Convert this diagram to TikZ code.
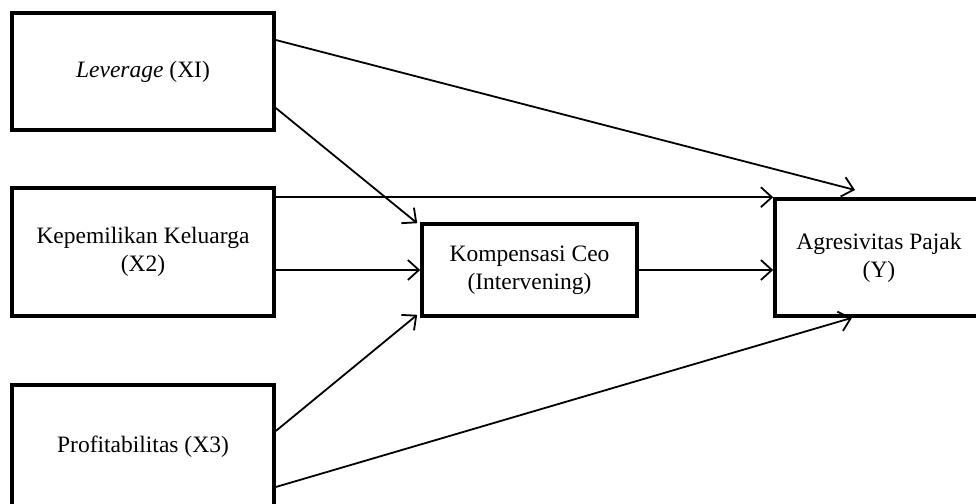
\documentclass[tikz,border=0pt]{standalone}
\usepackage{fontspec}
\setmainfont{Liberation Serif}
\usetikzlibrary{arrows.meta}
\begin{document}
\begin{tikzpicture}[x=1pt,y=-1pt,
  box/.style={draw=black,line width=3.6pt,fill=white,align=center,inner sep=0pt,
    font=\fontsize{23.5}{28}\selectfont},
  link/.style={draw=black,line width=1.8pt,-{Straight Barb[length=11pt,width=20pt,line width=1.8pt]}}]
\useasboundingbox (0,0) rectangle (976,503);
\clip (0,0) rectangle (976,503);
\node[box,minimum width=262pt,minimum height=117pt] (lev) at (143,71.5) {\textit{Leverage} (XI)};
\node[box,minimum width=262pt,minimum height=128pt] (kep) at (143,252) {Kepemilikan Keluarga\\(X2)};
\node[box,minimum width=262pt,minimum height=124pt] (pro) at (143,447) {Profitabilitas (X3)};
\node[box,minimum width=215pt,minimum height=92pt] (kom) at (529.5,270) {Kompensasi Ceo\\(Intervening)};
\node[box,minimum width=208pt,minimum height=117pt] (agr) at (879,257.5) {Agresivitas Pajak\\(Y)};
\coordinate (t1) at (855,190);
\draw[link] ([yshift=31.5pt]lev.east) -- (t1);
\draw[link] ([yshift=-36.5pt]lev.east) -- ([xshift=-3pt,yshift=-1pt]kom.north west);
\draw[link] (kep.east |- agr.north west) -- (agr.north west);
\draw[link] (kep.east |- kom.west) -- (kom.west);
\draw[link] (kom.east) -- (agr.west |- kom.east);
\draw[link] ([yshift=16pt]pro.east) -- ([xshift=-3pt,yshift=3pt]kom.south west);
\draw[link] ([yshift=-40pt]pro.east) -- ([xshift=-27pt]agr.south);
\end{tikzpicture}
\end{document}
